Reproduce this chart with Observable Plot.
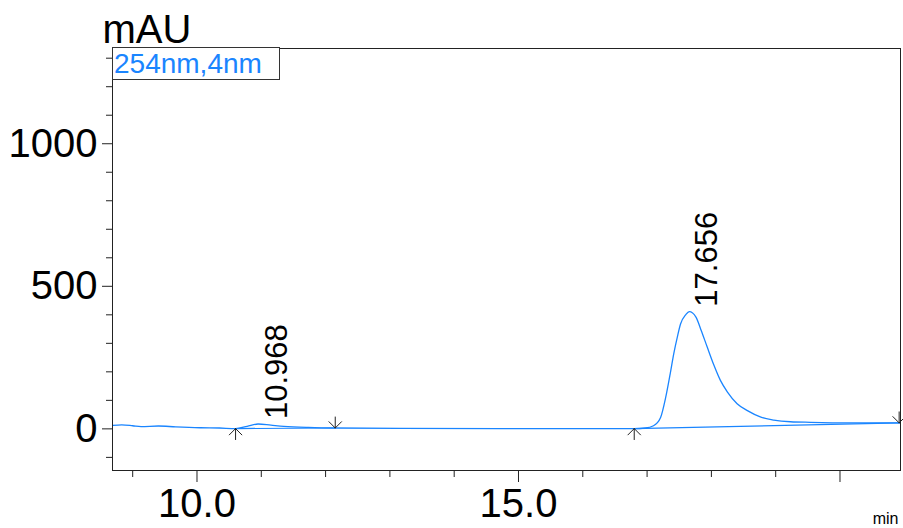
<!DOCTYPE html>
<html>
<head>
<meta charset="utf-8">
<script src="https://cdn.jsdelivr.net/npm/d3@7"></script>
<script src="https://cdn.jsdelivr.net/npm/@observablehq/plot@0.6"></script>
<style>
  html, body { margin: 0; padding: 0; background: #fff; }
  #wrap { position: relative; width: 903px; height: 528px; font-family: "Liberation Sans", Arial, sans-serif; }
  #legend { position: absolute; left: 112px; top: 47px; width: 165px; height: 31px; border: 1px solid #333; box-sizing: content-box;
            color: #1a85ff; font-size: 28px; line-height: 31px; padding-left: 1px; white-space: nowrap; background: #fff; }
</style>
</head>
<body>
<div id="wrap"><div id="legend">254nm,4nm</div></div>
<script>
// Chromatogram trace (time in min, absorbance in mAU)
const traceTime = [8.69, 8.83, 9.00, 9.13, 9.40, 9.67, 10.05, 10.35, 10.60, 10.78, 10.95, 11.15, 11.35, 11.73, 12.12, 13.16, 14.72, 16.28, 16.80, 16.97, 17.10, 17.21, 17.29, 17.36, 17.415, 17.47, 17.52, 17.60, 17.656, 17.76, 17.84, 17.935, 18.04, 18.14, 18.25, 18.40, 18.56, 18.77, 18.97, 19.23, 19.54, 20.16, 20.94];
const traceMAU  = [12, 14, 11, 8, 10, 7, 4, 3, 1, 9, 17, 13, 9, 5, 3, 2, 1, 1, 1, 3, 11, 40, 111, 194, 264, 322, 368, 400, 411, 392, 346, 287, 223, 170, 129, 88, 64, 41, 31, 25, 23, 21, 21];

// Integration baselines
const baselineStartTime = [10.60, 16.80];
const baselineStartMAU  = [1, 1];
const baselineEndTime   = [12.15, 20.94];
const baselineEndMAU    = [3, 21];

// Peak markers
const peakTimes  = [10.968, 17.656];
const peakHeights = [17, 411];
const peakLabels = ["10.968", "17.656"];

// Integration start/end arrows
const markerTimes = [10.60, 12.15, 16.80, 20.92];
const markerMAU   = [1, 3, 1, 21];
const markerDir   = ["up", "down", "up", "down"];

// Axes ticks
const xMajorTicks = [10, 15, 20];
const xLabelTicks = [10, 15];
const xMinorTicks = [9, 11, 12, 13, 14, 16, 17, 18, 19];
const yLabelTicks = [0, 500, 1000];
const yMinorTicks = [-100, 100, 200, 300, 400, 600, 700, 800, 900, 1100, 1200, 1300];

const xDomain = [8.686, 20.941];
const yDomain = [-146, 1334];

const trace = traceTime.map((t, i) => ({t, v: traceMAU[i]}));
const baselines = baselineStartTime.map((t, i) => ({x1: t, y1: baselineStartMAU[i], x2: baselineEndTime[i], y2: baselineEndMAU[i]}));
const peaks = peakTimes.map((t, i) => ({t, v: peakHeights[i], label: peakLabels[i]}));
const markers = markerTimes.map((t, i) => ({t, v: markerMAU[i], dir: markerDir[i]}));

const blue = "#1a85ff";
const ink = "#222";

const chart = Plot.plot({
  width: 903,
  height: 528,
  marginLeft: 112,
  marginRight: 3,
  marginTop: 48,
  marginBottom: 58,
  style: {fontFamily: "'Liberation Sans', Arial, sans-serif", background: "transparent", overflow: "visible"},
  x: {domain: xDomain, axis: null},
  y: {domain: yDomain, axis: null},
  marks: [
    Plot.axisY(yMinorTicks, {tickSize: 6, tickFormat: () => "", stroke: ink}),
    Plot.axisY(yLabelTicks, {tickSize: 10, tickPadding: 5, tickFormat: d => String(d), fontSize: 40, stroke: ink, fill: "#000"}),
    Plot.axisX(xMinorTicks, {tickSize: 7, tickFormat: () => "", stroke: ink}),
    Plot.axisX(xMajorTicks, {tickSize: 12, tickFormat: () => "", stroke: ink}),
    Plot.axisX(xLabelTicks, {tickSize: 0, tickPadding: 18, tickFormat: d3.format(".1f"), fontSize: 40, fill: "#000"}),
    Plot.link(baselines, {x1: "x1", y1: "y1", x2: "x2", y2: "y2", stroke: blue, strokeWidth: 1.2}),
    Plot.line(trace, {x: "t", y: "v", stroke: blue, strokeWidth: 1.3, curve: "monotone-x"}),
    Plot.vector(markers, {x: "t", y: "v", length: 11, anchor: "end", rotate: d => d.dir === "up" ? 0 : 180, r: 10, stroke: ink, strokeWidth: 1}),
    Plot.text(peaks, {x: "t", y: "v", text: "label", rotate: -90, textAnchor: "start", lineAnchor: "bottom", dx: 28, dy: -5, fontSize: 31, fill: "#000"}),
    Plot.text(["mAU"], {frameAnchor: "top-left", textAnchor: "start", lineAnchor: "bottom", dx: -10, dy: -6, fontSize: 40, fill: "#000"}),
    Plot.text(["min"], {frameAnchor: "bottom-right", textAnchor: "end", lineAnchor: "bottom", dx: -2, dy: 53, fontSize: 16, fill: "#000"}),
    Plot.frame({stroke: ink, strokeWidth: 1})
  ]
});
document.getElementById("wrap").prepend(chart);
chart.style.position = "absolute";
chart.style.left = "0px";
chart.style.top = "0px";
</script>
</body>
</html>
